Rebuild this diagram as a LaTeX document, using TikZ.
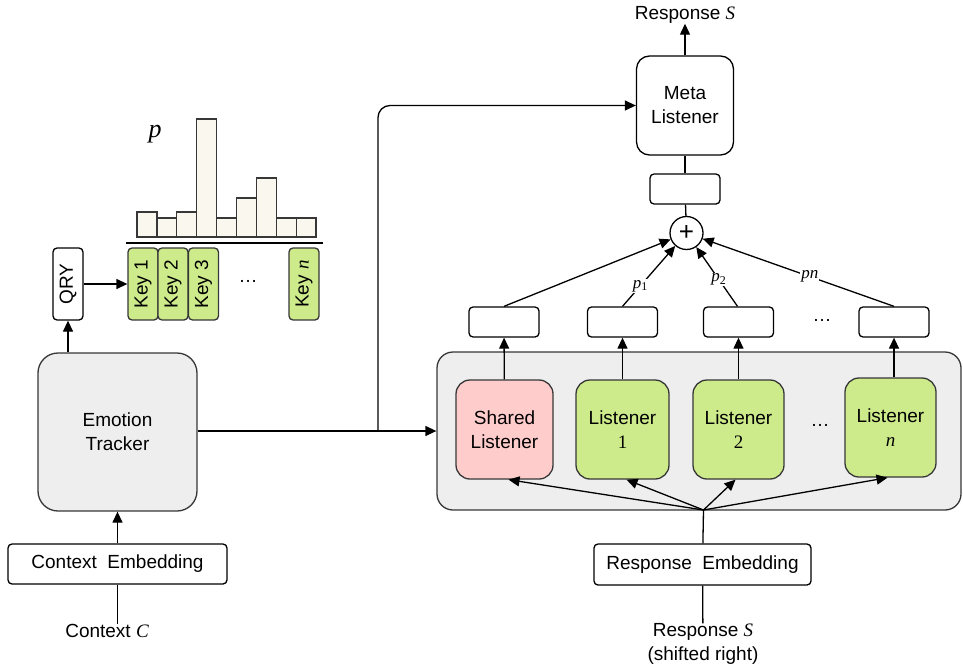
\documentclass[tikz,border=0pt]{standalone}
\usepackage{fontspec}
\setmainfont{Liberation Sans}
\newfontfamily\serfont{Liberation Serif}
\newcommand{\varit}[1]{{\serfont\itshape #1}}
\newcommand{\varup}[1]{{\serfont #1}}
\usetikzlibrary{arrows.meta}
\definecolor{listgreen}{RGB}{205,235,139}
\definecolor{sharedpink}{RGB}{255,204,204}
\definecolor{panelgrey}{RGB}{238,238,238}
\definecolor{barfill}{RGB}{249,247,238}
\definecolor{edgegrey}{RGB}{55,55,55}

\begin{document}
\begin{tikzpicture}[x=1pt,y=-1pt]
                \tikzstyle{every node}+=[inner sep=0pt, font=\fontsize{19}{24}\selectfont]
                \tikzstyle{box}=[draw=black, line width=1.3pt, fill=white, rounded corners=4pt, align=center]
                \tikzstyle{bigbox}=[draw=edgegrey, line width=1.3pt, fill=panelgrey, rounded corners=20pt, align=center]
                \tikzstyle{listener}=[draw=edgegrey, line width=1.3pt, fill=listgreen, rounded corners=14pt, align=center, minimum height=99pt]
                \tikzstyle{key}=[draw=edgegrey, line width=1.3pt, fill=listgreen, rounded corners=4pt, rotate=90, minimum width=72pt, minimum height=30pt]
                \tikzstyle{arr}=[line width=1.3pt, -{Triangle[length=11pt,width=10pt]}]
                \tikzstyle{plain}=[line width=1.3pt]
                \tikzstyle{plabel}=[fill=white, inner sep=1pt, font=\fontsize{17}{19}\selectfont]
                \useasboundingbox (0,0) rectangle (963,669);
                \node [bigbox, minimum width=159pt, minimum height=158pt] (tracker) at (117.5,432) {Emotion\\Tracker};
                \node [box, minimum width=219pt, minimum height=40pt] (ctxemb) at (117.5,564) {Context~~Embedding};
                \node (ctx) at (107,631) {Context \varit{C}};
                \node [box, rotate=90, minimum width=72pt, minimum height=30pt] (qry) at (68,284) {QRY};
                \node [key] (key1) at (143,284) {Key 1};
                \node [key] (key2) at (173,284) {Key 2};
                \node [key] (key3) at (203.5,284) {Key 3};
                \node [key] (keyn) at (304,284) {Key \varit{n}};
                \node (kdots) at (248,281) {\dots};
                \draw [plain] (126,243) -- (323,243);
                \foreach \h [count=\i from 0] in {25,19,25,118,19,39,59,19,19}
                  \draw [draw=edgegrey, line width=1.3pt, fill=barfill] (137+\i*19.9,237) rectangle (137+\i*19.9+19.9,237-\h);
                \node [font=\fontsize{26}{28}\selectfont] (plab) at (155,134) {\varit{p}};
                \node [draw=edgegrey, line width=1.3pt, fill=panelgrey, rounded corners=16pt, minimum width=524pt, minimum height=158pt] (panel) at (699,431) {};
                \node [listener, fill=sharedpink, minimum width=97pt] (shared) at (504.5,429.5) {Shared\\Listener};
                \node [listener, minimum width=93pt] (lis1) at (622.5,429.5) {Listener\\\varup{1}};
                \node [listener, minimum width=91pt] (lis2) at (738.5,429.5) {Listener\\\varup{2}};
                \node [listener, minimum width=91pt] (lisn) at (890.5,427.5) {Listener\\\varit{n}};
                \node (ldots) at (820,425) {\dots};
                \node [box, minimum width=70pt, minimum height=30pt] (out0) at (504,322) {};
                \node [box, minimum width=70pt, minimum height=30pt] (out1) at (622.5,322) {};
                \node [box, minimum width=70pt, minimum height=30pt] (out2) at (738.5,322) {};
                \node [box, minimum width=70pt, minimum height=30pt] (outn) at (894,322) {};
                \node (odots) at (822,320) {\dots};
                \node [draw=black, line width=1.3pt, fill=white, circle, minimum size=33pt, font=\fontsize{26}{28}\selectfont] (plus) at (686.5,233) {+};
                \node [box, minimum width=70pt, minimum height=30pt] (mbox) at (685,189) {};
                \node [box, rounded corners=13pt, minimum width=97pt, minimum height=99pt] (meta) at (685,105.5) {Meta\\Listener};
                \node (resp) at (685,15) {Response \varit{S}};
                \node [box, minimum width=217pt, minimum height=41pt] (respemb) at (702.5,564.5) {Response~~Embedding};
                \node [align=center] (respin) at (703,644) {Response \varit{S}\\(shifted right)};
                \coordinate (fan) at (703.5,510);
                \coordinate (split) at (378,431);
                \draw [plain] (ctxemb.south |- ctx.north) -- (ctxemb);
                \draw [arr] (ctxemb) -- (tracker);
                \draw [arr] (tracker.north -| qry) -- (qry.west);
                \draw [arr] (qry) -- (key1);
                \draw [arr] (tracker.east |- panel.west) -- (panel.west);
                \draw [arr, rounded corners=12pt] (split) |- (meta.west);
                \draw [plain] (respin) -- (respemb);
                \draw [plain] (respemb) -- (fan);
                \draw [arr] (fan) -- ([xshift=4pt]shared.south);
                \draw [arr] (fan) -- ([xshift=4pt]lis1.south);
                \draw [arr] (fan) -- ([xshift=-3pt]lis2.south);
                \draw [arr] (fan) -- ([xshift=-3pt]lisn.south);
                \draw [arr] (shared) -- (out0);
                \draw [arr] (lis1) -- (out1);
                \draw [arr] (lis2) -- (out2);
                \draw [arr] (lisn.north -| outn) -- (outn);
                \draw [arr] (out0.north) -- (plus);
                \draw [arr] (out1.north) -- node [plabel, pos=0.34] {\varit{p}\textsubscript{\varup{1}}} (plus);
                \draw [arr] ([xshift=-1pt]out2.north) -- node [plabel, pos=0.45] {\varit{p}\textsubscript{\varup{2}}} (plus);
                \draw [arr] (outn.north) -- node [plabel, pos=0.44] {\varit{pn}} (plus);
                \draw [plain] (plus) -- (mbox);
                \draw [plain] (mbox) -- (meta);
                \draw [arr] (meta) -- (resp);
\end{tikzpicture}
\end{document}
